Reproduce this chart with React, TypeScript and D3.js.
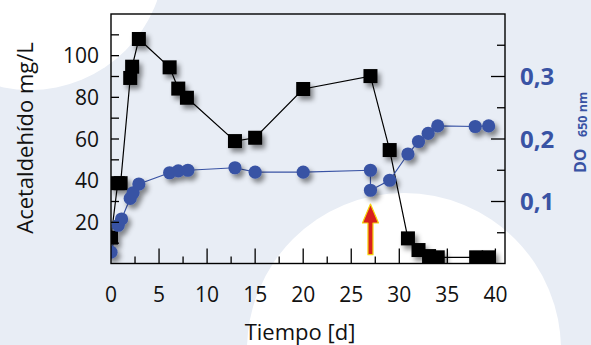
import React from 'react'
import * as d3 from 'd3'

// acetaldehyde (left axis, mg/L)
const acetDays = [0, 0.7, 1.0, 2.0, 2.2, 2.9, 6.1, 7.0, 7.9, 12.9, 15.0, 20.0, 27.0, 29.0, 30.9, 32.0, 33.1, 34.0, 38.0, 39.3]
const acetValues = [12.7, 38.8, 38.8, 89.3, 94.7, 108, 94.4, 84.2, 79.8, 59, 60.6, 84, 90.2, 54.7, 12.3, 6.7, 3.8, 3.2, 3.2, 3.2]

// optical density (right axis, DO 650 nm)
const odDays = [0, 0.75, 1.1, 2.0, 2.3, 2.9, 6.1, 7.0, 8.0, 12.9, 15.0, 20.0, 27.0, 27.0, 29.0, 30.9, 32.0, 33.0, 34.0, 37.9, 39.3]
const odValues = [0.019, 0.062, 0.072, 0.105, 0.114, 0.128, 0.146, 0.149, 0.15, 0.154, 0.147, 0.147, 0.15, 0.118, 0.134, 0.176, 0.196, 0.209, 0.221, 0.22, 0.221]

const xTickLabels = [0, 5, 10, 15, 20, 25, 30, 35, 40]
const leftTickLabels = [20, 40, 60, 80, 100]
const rightTickLabels = ['0,1', '0,2', '0,3']

// arrow marking day 27
const arrowDay = 27
const arrowTop = 0.096
const arrowBottom = 0.015

function App() {
  const width = 591
  const height = 345
  const blue = '#3953a4'
  const font = '"Open Sans", sans-serif'

  const x = d3.scaleLinear().domain([0, 41]).range([111, 505])
  const yL = d3.scaleLinear().domain([0, 120]).range([264, 14])
  const yR = d3.scaleLinear().domain([0, 0.4]).range([264, 14])

  const left = x(0), right = x(41), top = yL(120), bottom = 263.5

  const acetLine = d3.line<number>().x((d, i) => x(acetDays[i])).y(d => yL(d))
  const odLine = d3.line<number>().x((d, i) => x(odDays[i])).y(d => yR(d))

  const minorX = d3.range(2.5, 40.1, 2.5)
  const leftTicks = d3.range(10, 111, 10)
  const rightTicks = d3.range(0.05, 0.36, 0.05)

  const sq = 14
  const ax = x(arrowDay)
  const aTop = yR(arrowTop)
  const aBot = yR(arrowBottom)
  const headH = 19

  return (
    <svg width={width} height={height} style={{ position: 'absolute', left: 0, top: 0 }} fontFamily={font}>
      <defs>
        <filter id="shadow" x="-50%" y="-50%" width="200%" height="200%">
          <feDropShadow dx="3" dy="4" stdDeviation="2.5" floodColor="#000" floodOpacity="0.45" />
        </filter>
        <clipPath id="plot">
          <rect x={left} y={top} width={right - left} height={bottom - top} />
        </clipPath>
      </defs>

      {/* background */}
      <rect width={width} height={height} fill="#e8edf5" />
      <circle cx={30} cy={-45} r={135} fill="#ffffff" />
      <circle cx={404} cy={350} r={157} fill="#ffffff" />

      {/* lines and markers */}
      <g clipPath="url(#plot)">
        <path d={acetLine(acetValues) || ''} fill="none" stroke="#000" strokeWidth={1.2} />
        <path d={odLine(odValues) || ''} fill="none" stroke={blue} strokeWidth={1.2} />
        <g filter="url(#shadow)">
          {acetValues.map((v, i) => (
            <rect key={'s' + i} x={x(acetDays[i]) - sq / 2} y={yL(v) - sq / 2} width={sq} height={sq} fill="#000" />
          ))}
        </g>
        <g filter="url(#shadow)">
          {odValues.map((v, i) => (
            <circle key={'c' + i} cx={x(odDays[i])} cy={yR(v)} r={6.6} fill={blue} />
          ))}
        </g>
      </g>

      {/* arrow */}
      <path
        d={`M${ax} ${aTop} L${ax + 8} ${aTop + headH} L${ax + 2.5} ${aTop + headH} L${ax + 2.5} ${aBot} L${ax - 2.5} ${aBot} L${ax - 2.5} ${aTop + headH} L${ax - 8} ${aTop + headH} Z`}
        fill="#d8201f"
        stroke="#f4d20a"
        strokeWidth={1.2}
        strokeLinejoin="round"
      />

      {/* frame */}
      <rect x={left} y={top} width={right - left} height={bottom - top} fill="none" stroke="#000" strokeWidth={1.4} />

      {/* bottom ticks */}
      {minorX.map(t => {
        const major = Math.abs(t % 5) < 0.01
        return <line key={t} x1={x(t)} x2={x(t)} y1={bottom} y2={bottom - (major ? 15 : 7)} stroke="#000" strokeWidth={1.3} />
      })}
      {xTickLabels.map(t => (
        <text key={t} x={x(t)} y={302} textAnchor="middle" fontSize={21} fill="#111">{t}</text>
      ))}
      <text x={300} y={340} textAnchor="middle" fontSize={22} fill="#111">Tiempo [d]</text>

      {/* left axis */}
      {leftTicks.map(t => (
        <line key={t} x1={left} x2={left + 8} y1={yL(t)} y2={yL(t)} stroke="#000" strokeWidth={1.3} />
      ))}
      {leftTickLabels.map(t => (
        <text key={t} x={99} y={yL(t) + 7.5} textAnchor="end" fontSize={21} fill="#111">{t}</text>
      ))}
      <text transform="translate(33 138) rotate(-90)" textAnchor="middle" fontSize={22} fill="#111">Acetaldehído mg/L</text>

      {/* right axis */}
      {rightTicks.map((t, i) => (
        <line key={t} x1={right} x2={right - (i % 2 === 1 ? 14 : 8)} y1={yR(t)} y2={yR(t)} stroke="#000" strokeWidth={1.3} />
      ))}
      {rightTickLabels.map((t, i) => (
        <text key={t} x={520} y={yR((i + 1) / 10) + 8.5} fontSize={24} fontWeight="bold" fill={blue}>{t}</text>
      ))}
      <g transform="rotate(-90)" fill={blue} fontWeight="bold">
        <text x={-173} y={586} fontSize={16}>DO</text>
        <text x={-137} y={587} fontSize={12.5}>650 nm</text>
      </g>
    </svg>
  )
}

export default App
